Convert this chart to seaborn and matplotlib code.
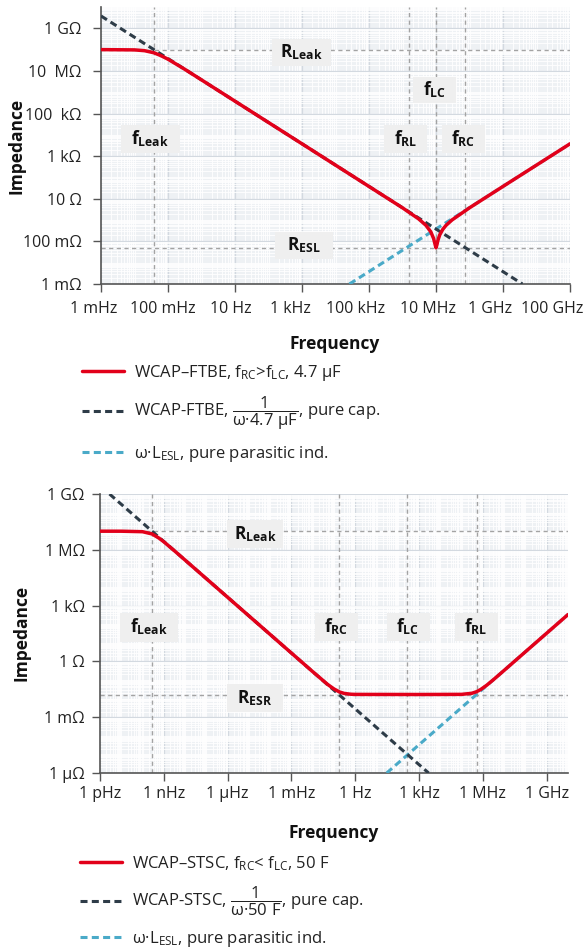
import matplotlib
matplotlib.use("Agg")
import numpy as np
import matplotlib.pyplot as plt
import seaborn as sns
from matplotlib.lines import Line2D
from matplotlib.patches import Rectangle
from matplotlib.ticker import LogLocator, NullFormatter
from matplotlib.transforms import ScaledTranslation

# ---- top chart: WCAP-FTBE, 4.7 uF ----
ftbe_freq = [1e-3, 1e-2, 2e-2, 3.8e-2, 6e-2, 1e-1, 3e-1, 1e0, 1e2, 1e4, 1e6, 3e6, 5e6,
             7e6, 8.5e6, 9.5e6, 1e7, 1.05e7, 1.15e7, 1.3e7, 1.6e7, 2e7, 3e7, 1e8, 1e9, 1e11]
ftbe_z = [1e8, 9.7e7, 8.9e7, 7.1e7, 5.3e7, 3.55e7, 1.26e7, 3.8e6, 3.8e4, 380, 3.76, 1.15, 0.57,
          0.28, 0.135, 0.067, 0.05, 0.064, 0.117, 0.206, 0.37, 0.57, 1.01, 3.76, 38, 3800]
ftbe_cap_freq = [1e-3, 3.8e9]
ftbe_cap_z = [3.8e9, 1e-3]
ftbe_ind_freq = [2.6e4, 1e11]
ftbe_ind_z = [1e-3, 3800]
ftbe_hlines = [1e8, 0.05]
ftbe_vlines = [0.038, 1.56e6, 1e7, 7.3e7]
ftbe_xticks = [1e-3, 1e-1, 1e1, 1e3, 1e5, 1e7, 1e9, 1e11]
ftbe_xlabels = ["1 mHz", "100 mHz", "10 Hz", "1 kHz", "100 kHz", "10 MHz", "1 GHz", "100 GHz"]
ftbe_yticks = [1e9, 1e7, 1e5, 1e3, 1e1, 1e-1, 1e-3]
ftbe_ylabels = ["1 GΩ", "10  MΩ", "100  kΩ", "1 kΩ", "10 Ω", "100 mΩ", "1 mΩ"]

# ---- bottom chart: WCAP-STSC, 50 F ----
stsc_freq = [1e-12, 1e-11, 1e-10, 2.8e-10, 6e-10, 1e-9, 3e-9, 1e-8, 1e-5, 1e-2, 5e-2, 1e-1,
             1.8e-1, 3e-1, 6e-1, 1e0, 1e3, 1e5, 3e5, 5e5, 8e5, 1.5e6, 3e6, 1e7, 1e10]
stsc_z = [1e7, 9.99e6, 9.4e6, 7.1e6, 4.2e6, 2.7e6, 9.3e5, 2.8e5, 280, 0.28, 0.058, 0.033,
          0.0228, 0.019, 0.0172, 0.0168, 0.0166, 0.0169, 0.0193, 0.0234, 0.0312, 0.052, 0.1, 0.33, 330]
stsc_cap_freq = [2.8e-12, 2800]
stsc_cap_z = [1e9, 1e-6]
stsc_ind_freq = [30, 1e10]
stsc_ind_z = [1e-6, 330]
stsc_hlines = [1e7, 0.0166]
stsc_vlines = [2.8e-10, 0.18, 280, 5e5]
stsc_xticks = [1e-12, 1e-9, 1e-6, 1e-3, 1e0, 1e3, 1e6, 1e9]
stsc_xlabels = ["1 pHz", "1 nHz", "1 µHz", "1 mHz", "1 Hz", "1 kHz", "1 MHz", "1 GHz"]
stsc_yticks = [1e9, 1e6, 1e3, 1e0, 1e-3, 1e-6]
stsc_ylabels = ["1 GΩ", "1 MΩ", "1 kΩ", "1 Ω", "1 mΩ", "1 µΩ"]

RED = "#e2001a"
DARK = "#2e3c48"
CYAN = "#4aaac8"
REF = "#a3a3a3"
DASH = (0, (2.3, 1.4))

sns.set_theme(style="whitegrid")
plt.rcParams["font.family"] = ["Open Sans", "DejaVu Sans"]
plt.rcParams["mathtext.fontset"] = "custom"
plt.rcParams["mathtext.rm"] = "Open Sans"
plt.rcParams["mathtext.it"] = "Open Sans:italic"
plt.rcParams["mathtext.bf"] = "Open Sans:bold"

W, H = 584, 951
fig = plt.figure(figsize=(W / 100, H / 100), dpi=100)


def px_axes(left, top, right, bottom):
    return fig.add_axes([left / W, 1 - bottom / H, (right - left) / W, (bottom - top) / H])


def style_axes(ax, xlim, ylim, xticks, xlabels, yticks, ylabels, xpad, ypad):
    ax.set_xscale("log")
    ax.set_yscale("log")
    ax.set_xlim(*xlim)
    ax.set_ylim(*ylim)
    ax.set_facecolor("#eef1f4")
    ax.set_xticks(xticks)
    ax.set_xticklabels(xlabels)
    ax.set_yticks(yticks)
    ax.set_yticklabels(ylabels)
    for axis in (ax.xaxis, ax.yaxis):
        axis.set_minor_locator(LogLocator(base=10, subs=np.arange(1, 10), numticks=200))
        axis.set_minor_formatter(NullFormatter())
    ax.grid(which="major", color="#d3d9e0", lw=0.9)
    ax.grid(which="minor", color="white", lw=0.6)
    ax.tick_params(which="minor", length=0)
    ax.tick_params(which="major", bottom=True, left=True, length=6, width=1,
                   color="#555555", direction="out", labelsize=11.5, labelcolor="#222222")
    ax.tick_params(axis="x", pad=xpad)
    ax.tick_params(axis="y", pad=ypad)
    for s in ("top", "right"):
        ax.spines[s].set_visible(False)
    for s in ("left", "bottom"):
        ax.spines[s].set_color("#555555")
        ax.spines[s].set_linewidth(1.2)
    ax.set_xlabel("")
    ax.set_ylabel("")


def draw_curves(ax, freq, z, cfreq, cz, ifreq, iz, hl, vl):
    for v in hl:
        ax.axhline(v, color=REF, lw=1.0, ls=(0, (3, 2.5)), zorder=2)
    for v in vl:
        ax.axvline(v, color=REF, lw=1.0, ls=(0, (3, 2.5)), zorder=2)
    sns.lineplot(x=ifreq, y=iz, ax=ax, color=CYAN, lw=2.2, linestyle=DASH,
                 estimator=None, sort=False, zorder=4)
    sns.lineplot(x=cfreq, y=cz, ax=ax, color=DARK, lw=2.2, linestyle=DASH,
                 estimator=None, sort=False, zorder=4)
    sns.lineplot(x=freq, y=z, ax=ax, color=RED, lw=2.5,
                 estimator=None, sort=False, zorder=5)


def label_box(ax, cx, cy, w, h, text):
    # cx, cy, w, h in figure pixels
    x0, y0 = ax.transAxes.inverted().transform(
        fig.transFigure.transform(((cx - w / 2) / W, 1 - (cy + h / 2) / H)))
    x1, y1 = ax.transAxes.inverted().transform(
        fig.transFigure.transform(((cx + w / 2) / W, 1 - (cy - h / 2) / H)))
    ax.add_patch(Rectangle((x0, y0), x1 - x0, y1 - y0, transform=ax.transAxes,
                           fc="#efefef", ec="none", zorder=3))
    ax.text((x0 + x1) / 2, (y0 + y1) / 2, text, transform=ax.transAxes, ha="center",
            va="center", fontsize=12.5, color="#111111", zorder=3.5)


# ---------------- top ----------------
ax1 = px_axes(101, 7, 570, 284)
draw_curves(ax1, ftbe_freq, ftbe_z, ftbe_cap_freq, ftbe_cap_z, ftbe_ind_freq, ftbe_ind_z,
            ftbe_hlines, ftbe_vlines)
style_axes(ax1, (1e-3, 1e11), (1e-3, 1e10), ftbe_xticks, ftbe_xlabels,
           ftbe_yticks, ftbe_ylabels, 6, 8)
# the top frequency labels sit a little left of their ticks in the original
label_shift_px = [-7, -5.5, -4, -12, -13.5, -8.5, -12.5, -18]
for lbl, dx in zip(ax1.get_xticklabels(), label_shift_px):
    lbl.set_transform(lbl.get_transform() + ScaledTranslation(dx / 100, 0, fig.dpi_scale_trans))

label_box(ax1, 301, 52, 59, 27, r"$\mathbf{R}_{\mathbf{Leak}}$")
label_box(ax1, 150, 139, 59, 28, r"$\mathbf{f}_{\mathbf{Leak}}$")
label_box(ax1, 304, 245, 58, 27, r"$\mathbf{R}_{\mathbf{ESL}}$")
label_box(ax1, 434.5, 90, 43, 26, r"$\mathbf{f}_{\mathbf{LC}}$")
label_box(ax1, 405.5, 139, 43, 28, r"$\mathbf{f}_{\mathbf{RL}}$")
label_box(ax1, 463.5, 139, 43, 28, r"$\mathbf{f}_{\mathbf{RC}}$")

fig.text(16.5 / W, 1 - 146 / H, "Impedance", rotation=90, ha="center", va="center",
         fontsize=12.5, fontweight="bold", color="#111111")
fig.text(335 / W, 1 - 349 / H, "Frequency", ha="center", va="baseline",
         fontsize=12.5, fontweight="bold", color="#111111")

h_red = Line2D([], [], color=RED, lw=2.5)
h_dark = Line2D([], [], color=DARK, lw=2.2, ls=DASH)
h_cyan = Line2D([], [], color=CYAN, lw=2.2, ls=DASH)

legend_kw = dict(loc="upper left", frameon=False, fontsize=12, handlelength=2.5,
                 handletextpad=0.6, labelspacing=0.7, borderpad=0, borderaxespad=0,
                 labelcolor="#222222")

fig.legend([h_red, h_dark, h_cyan],
           ["WCAP–FTBE, f$_\\mathrm{RC}$>f$_\\mathrm{LC}$, 4.7 µF",
            "WCAP-FTBE, $\\dfrac{1}{\\mathrm{ω·4.7\\ µF}}$, pure cap.",
            "ω·L$_\\mathrm{ESL}$, pure parasitic ind."],
           bbox_to_anchor=(82 / W, 1 - 363 / H), **legend_kw)

# ---------------- bottom ----------------
ax2 = px_axes(100, 494, 568, 773)
draw_curves(ax2, stsc_freq, stsc_z, stsc_cap_freq, stsc_cap_z, stsc_ind_freq, stsc_ind_z,
            stsc_hlines, stsc_vlines)
style_axes(ax2, (1e-12, 1e10), (1e-6, 1e9), stsc_xticks, stsc_xlabels,
           stsc_yticks, stsc_ylabels, 3.5, 5)

label_box(ax2, 255, 534, 56, 28, r"$\mathbf{R}_{\mathbf{Leak}}$")
label_box(ax2, 149, 627, 59, 29, r"$\mathbf{f}_{\mathbf{Leak}}$")
label_box(ax2, 255, 698, 56, 28, r"$\mathbf{R}_{\mathbf{ESR}}$")
label_box(ax2, 336.5, 627, 43, 28, r"$\mathbf{f}_{\mathbf{RC}}$")
label_box(ax2, 408, 627, 43, 28, r"$\mathbf{f}_{\mathbf{LC}}$")
label_box(ax2, 476, 627, 43, 28, r"$\mathbf{f}_{\mathbf{RL}}$")

fig.text(21.5 / W, 1 - 633 / H, "Impedance", rotation=90, ha="center", va="center",
         fontsize=12.5, fontweight="bold", color="#111111")
fig.text(334 / W, 1 - 838 / H, "Frequency", ha="center", va="baseline",
         fontsize=12.5, fontweight="bold", color="#111111")

fig.legend([h_red, h_dark, h_cyan],
           ["WCAP–STSC, f$_\\mathrm{RC}$< f$_\\mathrm{LC}$, 50 F",
            "WCAP-STSC, $\\dfrac{1}{\\mathrm{ω·50\\ F}}$, pure cap.",
            "ω·L$_\\mathrm{ESL}$, pure parasitic ind."],
           bbox_to_anchor=(80 / W, 1 - 854 / H), **legend_kw)

fig.savefig("out.png", dpi=100)
